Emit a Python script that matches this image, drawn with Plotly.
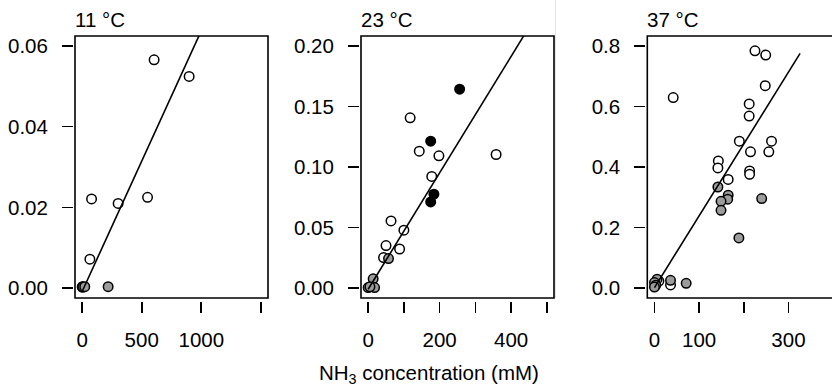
import plotly.graph_objects as go

# ---------------- data ----------------
panel_titles = ["11 °C", "23 °C", "37 °C"]

# 11 °C
p1_open_x = [604, 898, 79, 302, 549, 65]
p1_open_y = [0.0565, 0.0524, 0.0221, 0.0210, 0.0225, 0.0072]
p1_gray_x = [0, 3, 8, 22, 218]
p1_gray_y = [0.0003, 0.0004, 0.0003, 0.0004, 0.0004]
p1_black_x = []
p1_black_y = []

# 23 °C
p2_open_x = [117.5, 143, 198, 358, 178, 64, 100, 50, 88, 43]
p2_open_y = [0.1405, 0.113, 0.1092, 0.1103, 0.0922, 0.0555, 0.0479, 0.0352, 0.0324, 0.0253]
p2_gray_x = [57, 14, 0, 18, 5]
p2_gray_y = [0.0245, 0.0078, 0.0006, 0.0006, 0.0012]
p2_black_x = [256, 175, 184, 175]
p2_black_y = [0.1642, 0.1213, 0.0776, 0.0712]

# 37 °C
p3_open_x = [225, 249, 42, 248, 212, 212, 190, 262, 215, 256, 143, 142, 213, 213, 165, 36, 10]
p3_open_y = [0.783, 0.769, 0.629, 0.668, 0.608, 0.568, 0.485, 0.485, 0.45, 0.45, 0.42, 0.397,
             0.387, 0.376, 0.359, 0.011, 0.024]
p3_gray_x = [142, 165, 164, 149, 149, 240, 189, 71, 36, 6, 0, 3, 0]
p3_gray_y = [0.334, 0.307, 0.294, 0.287, 0.257, 0.296, 0.166, 0.0165, 0.0264, 0.030, 0.019, 0.010, 0.004]
p3_black_x = []
p3_black_y = []

# fitted lines: slope, intercept, x start, x end
fit_slope = [6.45e-5, 4.8e-4, 2.37e-3]
fit_intercept = [-0.0008, -0.0008, 0.002]
fit_x0 = [0, 0, 0]
fit_x1 = [1500, 500, 326]

# axis ticks (labelled ticks and unlabelled ticks)
x_tickvals = [[0, 500, 1000], [0, 200, 400], [0, 100, 300]]
x_ticktext = [["0", "500", "1000"], ["0", "200", "400"], ["0", "100", "300"]]
x_unlabelled = [[1500], [100, 300, 500], [200]]
y_tickvals = [[0, 0.02, 0.04, 0.06], [0, 0.05, 0.10, 0.15, 0.20], [0, 0.2, 0.4, 0.6, 0.8]]
y_ticktext = [["0.00", "0.02", "0.04", "0.06"], ["0.00", "0.05", "0.10", "0.15", "0.20"],
              ["0.0", "0.2", "0.4", "0.6", "0.8"]]
x_label = "NH<sub>3</sub> concentration (mM)"

# ---------------- layout helpers ----------------
W, H = 832, 386
def px(x):
    return x / W
def py(y):
    return 1 - y / H

box_left = [75, 361, 647.3]
box_right = [268, 554, 860]
box_top, box_bottom = 36, 298
x_ranges = [[-60, 1560], [-20, 520], [-16, 397.4]]
y_ranges = [[-0.0024, 0.0624], [-0.008, 0.208], [-0.032, 0.832]]

FONT = "Liberation Sans, Arial, sans-serif"
FS = 20.5
GRAY = "#9c9c9c"

fig = go.Figure()

panels = [
    (p1_open_x, p1_open_y, p1_gray_x, p1_gray_y, p1_black_x, p1_black_y),
    (p2_open_x, p2_open_y, p2_gray_x, p2_gray_y, p2_black_x, p2_black_y),
    (p3_open_x, p3_open_y, p3_gray_x, p3_gray_y, p3_black_x, p3_black_y),
]

shapes = []
annotations = []
for i, (ox, oy, gx, gy, bx, by) in enumerate(panels):
    xa = "x" if i == 0 else f"x{i+1}"
    ya = "y" if i == 0 else f"y{i+1}"
    mk = dict(size=9.5, line=dict(color="black", width=1.5))
    fig.add_trace(go.Scatter(x=ox, y=oy, mode="markers", xaxis=xa, yaxis=ya,
                             marker=dict(color="white", **mk), showlegend=False, hoverinfo="skip"))
    fig.add_trace(go.Scatter(x=gx, y=gy, mode="markers", xaxis=xa, yaxis=ya,
                             marker=dict(color=GRAY, **mk), showlegend=False, hoverinfo="skip"))
    fig.add_trace(go.Scatter(x=bx, y=by, mode="markers", xaxis=xa, yaxis=ya,
                             marker=dict(color="black", **mk), showlegend=False, hoverinfo="skip"))
    lx = [fit_x0[i], fit_x1[i]]
    ly = [fit_slope[i] * v + fit_intercept[i] for v in lx]
    fig.add_trace(go.Scatter(x=lx, y=ly, mode="lines", xaxis=xa, yaxis=ya,
                             line=dict(color="black", width=1.6), showlegend=False, hoverinfo="skip"))

    xkey = "xaxis" if i == 0 else f"xaxis{i+1}"
    ykey = "yaxis" if i == 0 else f"yaxis{i+1}"
    fig.update_layout(**{
        xkey: dict(domain=[px(box_left[i]), min(1.0, px(box_right[i]))], range=x_ranges[i],
                   anchor="free", position=py(300.5), showgrid=False, zeroline=False,
                   automargin=False,
                   showline=False, ticks="outside", ticklen=11, tickwidth=1.6, tickcolor="black",
                   tickvals=x_tickvals[i], ticktext=x_ticktext[i], ticklabelstandoff=10,
                   minor=dict(tickmode="array", tickvals=x_unlabelled[i], ticks="outside",
                              ticklen=11, tickwidth=1.6, tickcolor="black", showgrid=False),
                   tickfont=dict(family=FONT, size=FS, color="black")),
        ykey: dict(domain=[py(box_bottom), py(box_top)], range=y_ranges[i],
                   anchor="free", position=px(box_left[i] - 2), showgrid=False, zeroline=False,
                   automargin=False,
                   showline=False, ticks="outside", ticklen=11, tickwidth=1.6, tickcolor="black",
                   tickvals=y_tickvals[i], ticktext=y_ticktext[i], ticklabelstandoff=10,
                   tickfont=dict(family=FONT, size=FS, color="black")),
    })
    shapes.append(dict(type="rect", xref="paper", yref="paper",
                       x0=px(box_left[i]), x1=px(box_right[i]), y0=py(box_bottom), y1=py(box_top),
                       line=dict(color="black", width=1.6), layer="above"))
    annotations.append(dict(text=panel_titles[i], xref="paper", yref="paper",
                            x=px(box_left[i] - 2), y=py(19.5), xanchor="left", yanchor="middle",
                            showarrow=False, font=dict(family=FONT, size=FS, color="black")))

# faint separator line seen in the reference
shapes.append(dict(type="line", xref="paper", yref="paper", x0=px(555.5), x1=px(555.5),
                   y0=py(298), y1=1, line=dict(color="#e4e4e4", width=1), layer="below"))

annotations.append(dict(text=x_label, xref="paper", yref="paper", x=px(429), y=py(374),
                        xanchor="center", yanchor="middle", showarrow=False,
                        font=dict(family=FONT, size=FS, color="black")))

fig.update_layout(template="none", width=W, height=H,
                  margin=dict(l=0, r=0, t=0, b=0, pad=0, autoexpand=False),
                  paper_bgcolor="white", plot_bgcolor="white",
                  shapes=shapes, annotations=annotations)

fig.write_html("out.html", config={"displayModeBar": False, "staticPlot": True},
               post_script="document.body.style.margin='0';document.body.style.padding='0';"
                           "document.body.style.overflow='hidden';")
